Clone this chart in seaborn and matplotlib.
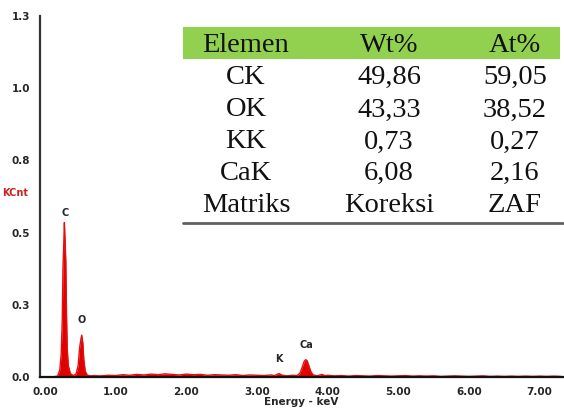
import matplotlib
matplotlib.use("Agg")
import matplotlib.pyplot as plt
import seaborn as sns
import pandas as pd
from matplotlib.patches import Rectangle
from matplotlib.lines import Line2D

# spektrum EDS (keV, KCnt)
energy_kev = [
    0.00, 0.10, 0.18, 0.21, 0.23, 0.245, 0.255, 0.265, 0.275, 0.285,
    0.295, 0.305, 0.315, 0.33, 0.36, 0.40, 0.44, 0.47, 0.49, 0.505,
    0.52, 0.535, 0.55, 0.57, 0.60, 0.65, 0.70, 0.75,
    0.8, 0.9, 1.0, 1.1, 1.2, 1.3, 1.4, 1.5, 1.6, 1.7,
    1.8, 1.9, 2.0, 2.1, 2.2, 2.3, 2.4, 2.5, 2.6, 2.7,
    2.8, 2.9, 3.0, 3.1, 3.2,
    3.25, 3.31, 3.36, 3.42, 3.50, 3.57, 3.61, 3.64, 3.67, 3.69,
    3.71, 3.73, 3.76, 3.79, 3.85, 3.92, 3.97,
    4.0, 4.1, 4.2, 4.3, 4.4, 4.5, 4.6, 4.7, 4.8, 4.9,
    5.0, 5.1, 5.2, 5.3, 5.4, 5.5, 5.6, 5.7, 5.8, 5.9,
    6.0, 6.1, 6.2, 6.3, 6.4, 6.5, 6.6, 6.7, 6.8, 6.9,
    7.0, 7.1, 7.2, 7.3,
]
counts = [
    0.000, 0.000, 0.003, 0.025, 0.080, 0.200, 0.380, 0.450, 0.535, 0.470,
    0.400, 0.220, 0.100, 0.040, 0.012, 0.005, 0.010, 0.040, 0.100, 0.125,
    0.145, 0.120, 0.060, 0.020, 0.006, 0.004, 0.005, 0.004,
    0.004, 0.006, 0.005, 0.008, 0.006, 0.009, 0.007, 0.010, 0.008, 0.011,
    0.009, 0.007, 0.010, 0.008, 0.009, 0.006, 0.008, 0.007, 0.006, 0.008,
    0.005, 0.007, 0.006, 0.005, 0.007,
    0.005, 0.012, 0.006, 0.004, 0.006, 0.005, 0.014, 0.034, 0.055, 0.060,
    0.056, 0.042, 0.020, 0.008, 0.004, 0.009, 0.004,
    0.006, 0.004, 0.005, 0.003, 0.005, 0.004, 0.003, 0.005, 0.004, 0.003,
    0.004, 0.005, 0.003, 0.004, 0.003, 0.004, 0.002, 0.003, 0.004, 0.003,
    0.002, 0.003, 0.004, 0.002, 0.003, 0.002, 0.003, 0.002, 0.003, 0.002,
    0.003, 0.002, 0.003, 0.002,
]

# label puncak
peak_labels = ["C", "O", "K", "Ca"]
peak_x = [0.28, 0.52, 3.31, 3.70]
peak_y = [0.55, 0.18, 0.045, 0.095]

# tabel komposisi
table_header = ["Elemen", "Wt%", "At%"]
elemen = ["CK", "OK", "KK", "CaK", "Matriks"]
wt_persen = ["49,86", "43,33", "0,73", "6,08", "Koreksi"]
at_persen = ["59,05", "38,52", "0,27", "2,16", "ZAF"]

y_ticks = [0.0, 0.25, 0.5, 0.75, 1.0, 1.25]
y_ticklabels = ["0.0", "0.3", "0.5", "0.8", "1.0", "1.3"]
x_ticks = [0, 1, 2, 3, 4, 5, 6, 7]

df = pd.DataFrame({"energy": energy_kev, "counts": counts})

sns.set_style("white")
plt.rcParams['font.family'] = ['Verdana', 'DejaVu Sans']

W, H = 564, 408
fig = plt.figure(figsize=(W / 100, H / 100), dpi=100)
ax = fig.add_axes([40 / W, 1 - 377 / H, (563 - 40) / W, (377 - 16) / H])

ax.fill_between(df["energy"], df["counts"], color="#e00000", lw=0)
sns.lineplot(data=df, x="energy", y="counts", ax=ax, color="#e41010", lw=1.0)

ax.set_xlim(-0.07, 7.33)
ax.set_ylim(0, 1.25)
ax.set_yticks(y_ticks)
ax.set_yticklabels(y_ticklabels)
ax.set_xticks(x_ticks)
ax.set_xticklabels([f"{v:.2f}" for v in x_ticks])
ax.tick_params(axis="both", direction="out", length=5, width=1.2, color="#333333",
               labelsize=7.5, pad=2)
for lab in ax.get_xticklabels() + ax.get_yticklabels():
    lab.set_fontweight("bold")
ax.set_xlabel("Energy - keV", fontsize=7.5, fontweight="bold", labelpad=0)
ax.set_ylabel("")
for side in ["top", "right"]:
    ax.spines[side].set_visible(False)
ax.spines["left"].set_color("#333333")
ax.spines["left"].set_linewidth(1.6)
ax.spines["bottom"].set_color("#111111")
ax.spines["bottom"].set_linewidth(1.6)

fig.text(2 / W, 1 - 193 / H, "KCnt", color="#d02020", fontsize=7,
         fontweight="bold", va="center", ha="left")

for lab, px, py in zip(peak_labels, peak_x, peak_y):
    ax.text(px, py, lab, fontsize=7, fontweight="bold", ha="center", va="bottom")

# tabel
def fx(p):
    return p / W

def fy(p):
    return 1 - p / H

fig.patches.append(Rectangle((fx(183), fy(59)), fx(560) - fx(183), fy(27) - fy(59),
                             transform=fig.transFigure, facecolor="#92d050",
                             edgecolor="none", zorder=1))
fig.lines.append(Line2D([fx(183), fx(563)], [fy(223), fy(223)],
                        transform=fig.transFigure, color="#606060", lw=2))

col_x = [246, 389, 515]
row_y = [45, 77, 110, 142, 173, 205]
serif = ['Liberation Serif', 'DejaVu Serif']
for cx, txt in zip(col_x, table_header):
    fig.text(fx(cx), fy(row_y[0]), txt, family=serif, fontsize=20.5,
             ha="center", va="center", zorder=3, color="#111111")
for i in range(len(elemen)):
    for cx, col in zip(col_x, [elemen, wt_persen, at_persen]):
        fig.text(fx(cx), fy(row_y[i + 1]), col[i], family=serif, fontsize=20.5,
                 ha="center", va="center", zorder=3, color="#111111")

fig.savefig("out.png", dpi=100)
